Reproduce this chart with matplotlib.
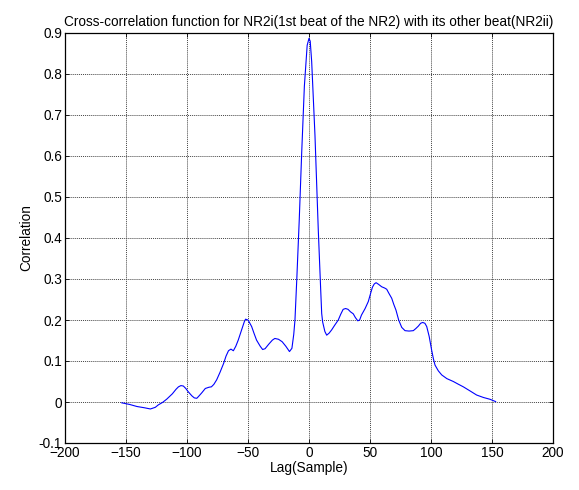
import matplotlib
matplotlib.use("Agg")
import matplotlib.pyplot as plt

lag = [-153.5, -147, -141, -135, -130, -126, -123.5, -120, -116.6, -112, -109, -107, -105, -103, -101, -99, -96, -94, -92, -90.7,
       -88, -85, -82, -80, -78, -75.7, -73, -70, -68, -66, -64, -62, -60, -58, -55, -53, -52, -50, -49, -47, -45, -43, -40, -38, -36, -33, -30, -28, -25, -22, -19, -16, -14,
       -12.5, -11.5, -10, -8, -6, -3.8, -1.5, 0, 1, 2.2, 4.9, 7.6, 9.5, 10.4, 11.2, 13, 14.5, 16.5, 18.6, 21, 24, 26, 28, 30, 32, 34, 36.3, 38, 40, 41.5, 43,
       46, 48.6, 50.5, 52, 53.5, 55, 57, 59.6, 62, 63.7, 65.5, 67.8, 69.5, 71.3, 73.5, 76, 78.7, 82, 85.5, 87.5, 89.6, 91.5, 93.2, 95, 96.5, 98.5, 100.5, 102, 103.3,
       106, 108.8, 113, 118.3, 122, 126.5, 132, 137.4, 143, 148.4, 153]
corr = [-0.002, -0.006, -0.011, -0.014, -0.017, -0.013, -0.007, -0.001, 0.007, 0.020, 0.031, 0.037, 0.040, 0.039,
        0.033, 0.025, 0.015, 0.010, 0.009, 0.013,
        0.022, 0.033, 0.036, 0.037, 0.043, 0.054, 0.072, 0.094, 0.112, 0.125, 0.129, 0.125, 0.136, 0.151, 0.178, 0.196, 0.202, 0.200, 0.195,
        0.184, 0.167, 0.151, 0.136, 0.128, 0.130, 0.141, 0.151, 0.155, 0.153, 0.147, 0.136, 0.123, 0.131,
        0.165, 0.200, 0.300, 0.444, 0.607, 0.770, 0.870,
        0.887, 0.880, 0.830, 0.650, 0.420, 0.280, 0.216, 0.195, 0.172, 0.163, 0.168, 0.176, 0.187, 0.200, 0.214, 0.226, 0.228, 0.226, 0.220, 0.215,
        0.206, 0.198, 0.200, 0.212,
        0.228, 0.245, 0.265, 0.280, 0.288, 0.291, 0.287, 0.281, 0.278, 0.275, 0.265, 0.253, 0.238, 0.224, 0.200, 0.182, 0.174, 0.173, 0.174,
        0.179, 0.185, 0.192, 0.194, 0.192, 0.184, 0.160, 0.127, 0.105, 0.090,
        0.076, 0.066, 0.057, 0.050, 0.044, 0.037, 0.027, 0.017, 0.011,
        0.0066, 0.001]

xticks = [-200, -150, -100, -50, 0, 50, 100, 150, 200]
yticks = [-0.1, 0, 0.1, 0.2, 0.3, 0.4, 0.5, 0.6, 0.7, 0.8, 0.9]
ytick_labels = ["-0.1", "0", "0.1", "0.2", "0.3", "0.4", "0.5", "0.6", "0.7", "0.8", "0.9"]

plt.rcParams['font.family'] = ['Liberation Sans', 'DejaVu Sans']
plt.rcParams['font.size'] = 10

fig = plt.figure(figsize=(5.79, 4.90), dpi=100)
W, H = 579, 490
ax = fig.add_axes([65 / W, 1 - 443 / H, (553 - 65) / W, (443 - 33) / H])
ax.plot(lag, corr, color='#0000ff', linewidth=0.8)
ax.set_xlim(-200, 200)
ax.set_ylim(-0.1, 0.9)
ax.set_xticks(xticks)
ax.set_yticks(yticks)
ax.set_yticklabels(ytick_labels)
ax.grid(True, color='#444444', linestyle=(0, (1, 1)), linewidth=0.7)
ax.tick_params(direction='in', top=True, right=True, length=3, width=0.6, pad=2, labelsize=9.8)
for s in ax.spines.values():
    s.set_linewidth(0.9)
ax.set_title("Cross-correlation function for NR2i(1st beat of the NR2) with its other beat(NR2ii)",
             fontsize=9.8, pad=5)
ax.set_xlabel("Lag(Sample)", fontsize=9.8, labelpad=1)
ax.set_ylabel("Correlation", fontsize=9.8, labelpad=4)
fig.savefig("out.png", dpi=100)
